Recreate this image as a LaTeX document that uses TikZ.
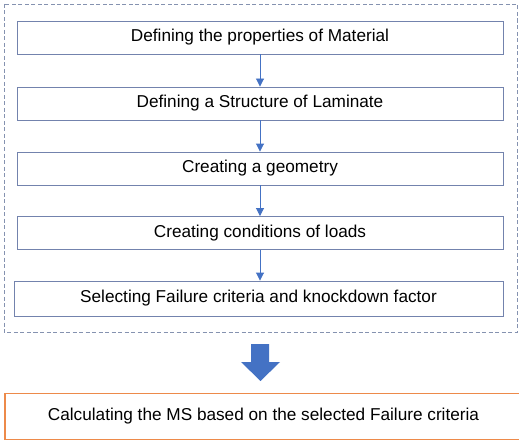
\documentclass[tikz,border=0pt]{standalone}
\usepackage{fontspec}
\setmainfont{Liberation Sans}
\usetikzlibrary{arrows.meta}
\definecolor{boxline}{HTML}{7383AD}
\definecolor{arrblue}{HTML}{4472C4}
\definecolor{dashc}{HTML}{8592B0}
\definecolor{orng}{HTML}{ED8A4A}
\tikzset{
  stepbox/.style={draw=boxline, line width=0.9pt, fill=white, minimum height=33pt, minimum width=486pt, inner sep=0pt, font=\fontsize{17.2}{20}\selectfont, anchor=center},
  conn/.style={draw=arrblue, line width=0.9pt, -{Triangle[length=8pt,width=8pt]}},
}
\begin{document}
\begin{tikzpicture}[x=1pt,y=-1pt]
\useasboundingbox (0,0) rectangle (519,441);
\fill[white] (0,0) rectangle (519,441);
\draw[dashc, line width=0.9pt, dash pattern=on 4pt off 2.5pt] (4,4) rectangle (517,332);
\node[stepbox] (b1) at (260,37.5) {Defining the properties of Material};
\node[stepbox] (b2) at (260,103.5) {Defining a Structure of Laminate};
\node[stepbox] (b3) at (260,168.5) {Creating a geometry};
\node[stepbox] (b4) at (260,233) {Creating conditions of loads};
\node[stepbox, minimum width=489pt, minimum height=35pt] (b5) at (258.5,298.5) {Selecting Failure criteria and knockdown factor};
\draw[conn] (b1.south) -- (b2.north);
\draw[conn] (b2.south) -- (b3.north);
\draw[conn] (b3.south) -- (b4.north);
\draw[conn] (b4.south) -- (b4.south |- b5.north);
\fill[arrblue] (251,344) -- (269,344) -- (269,362) -- (280,362) -- (260.5,381) -- (241,362) -- (251,362) -- cycle;
\node[draw=orng, line width=1.2pt, minimum width=517pt, minimum height=46pt, inner sep=0pt, anchor=center, font=\fontsize{17.2}{20}\selectfont] (fin) at (263.5,416.5) {Calculating the MS based on the selected Failure criteria};
\end{tikzpicture}
\end{document}
